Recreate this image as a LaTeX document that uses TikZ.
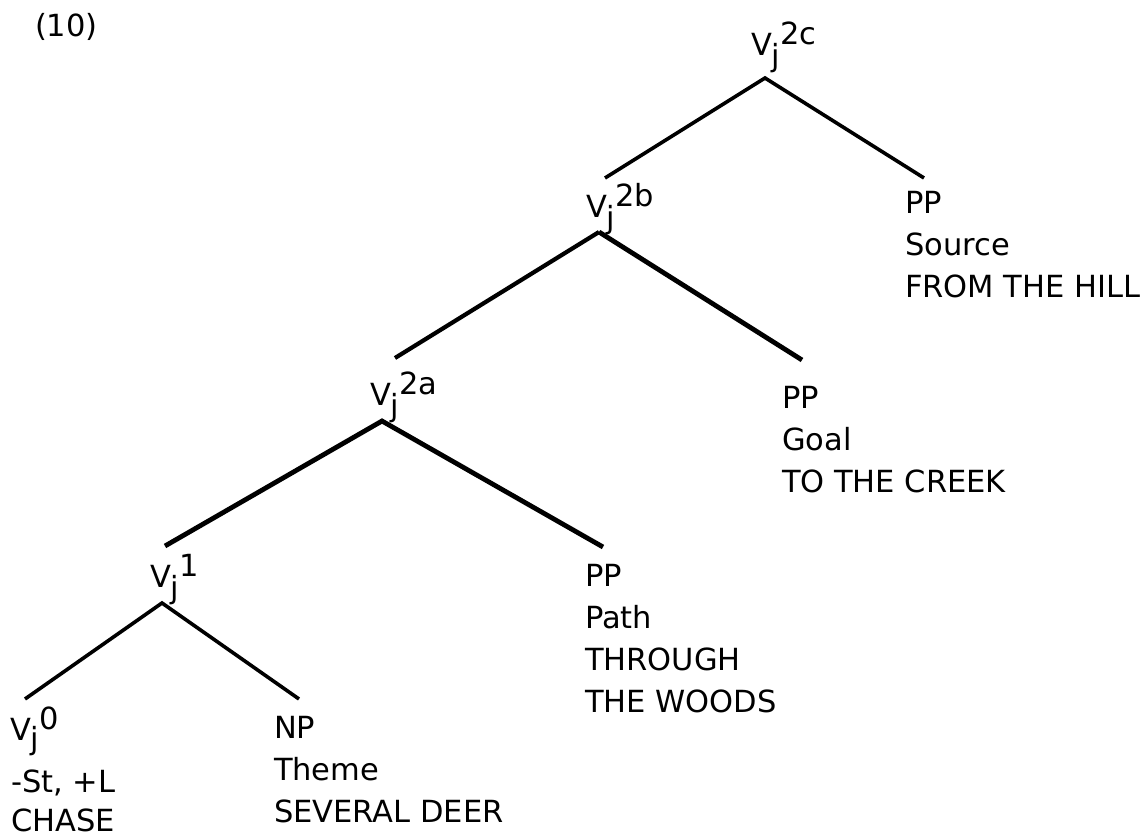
\documentclass[tikz,border=0pt]{standalone}
\usepackage{fontspec}
\setmainfont{DejaVu Sans}
\newcommand\Vsub[1]{V\raisebox{-11pt}{j}\raisebox{10.5pt}{#1}}
\tikzset{
  lbl/.style={anchor=base west, inner sep=0pt, outer sep=0pt},
  thinbranch/.style={line width=3.6pt, line join=miter},
  thickbranch/.style={line width=4.8pt, line join=miter},
}
\begin{document}
\begin{tikzpicture}[x=1pt, y=-1pt, font=\fontsize{30.5}{42}\selectfont]
\useasboundingbox (0,0) rectangle (1145,838);
% example number
\node[lbl] (num) at (35,36) {(10)};
% category labels
\node[lbl] (v2c) at (751,55) {\Vsub{2c}};
\node[lbl] (v2b) at (586,217) {\Vsub{2b}};
\node[lbl] (v2a) at (370,405) {\Vsub{2a}};
\node[lbl] (v1) at (150,587) {\Vsub{1}};
\node[lbl] (v0) at (10,740) {V\raisebox{-9pt}{j}\raisebox{11pt}{0}};
\node[lbl] (v0b) at (11,792) {-St, +L};
\node[lbl] (v0c) at (11,831) {CHASE};
% source
\node[lbl] (src1) at (905,213) {PP};
\node[lbl] (src2) at (905,255) {Source};
\node[lbl] (src3) at (905,297) {FROM THE HILL};
% goal
\node[lbl] (goal1) at (782,408) {PP};
\node[lbl] (goal2) at (782,450) {Goal};
\node[lbl] (goal3) at (782,492) {TO THE CREEK};
% path
\node[lbl] (path1) at (585,586) {PP};
\node[lbl] (path2) at (585,628) {Path};
\node[lbl] (path3) at (585,670) {THROUGH};
\node[lbl] (path4) at (585,712) {THE WOODS};
% theme
\node[lbl] (th1) at (274,738) {NP};
\node[lbl] (th2) at (274,780) {Theme};
\node[lbl] (th3) at (274,822) {SEVERAL DEER};
% branch points
\coordinate (a2c) at (765,78);
\coordinate (l2c) at (605,178);
\coordinate (r2c) at (924,178);
\coordinate (a2b) at (599,232);
\coordinate (l2b) at (395,358);
\coordinate (r2b) at (802,360);
\coordinate (a2a) at (382,421);
\coordinate (l2a) at (165,546);
\coordinate (r2a) at (603,547);
\coordinate (a1) at (162,603);
\coordinate (l1) at (25,699);
\coordinate (r1) at (299,699);
% branches
\draw[thinbranch] (l2c) -- (a2c) -- (r2c);
\draw[thinbranch, line width=4.2pt] (l2b) -- (a2b);
\draw[thickbranch] (a2b) -- (r2b);
\draw[thickbranch] (l2a) -- (a2a) -- (r2a);
\draw[thinbranch] (l1) -- (a1) -- (r1);
\end{tikzpicture}
\end{document}
